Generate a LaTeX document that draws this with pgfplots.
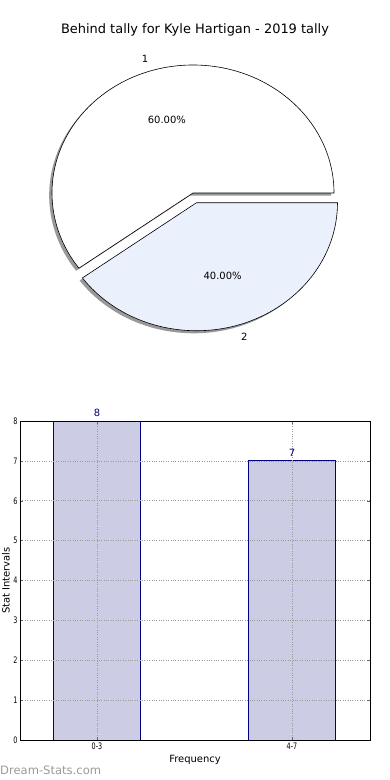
\documentclass[border=0pt]{standalone}
\usepackage{fontspec}
\setmainfont{DejaVu Sans}
\newfontfamily\tickfont[FakeStretch=0.72]{DejaVu Sans}
\usepackage{pgfplots}
\usepackage{pgfplotstable}
\pgfplotsset{compat=1.18}
\definecolor{navyc}{HTML}{000080}
\definecolor{barfill}{HTML}{CCCCE5}
\definecolor{slicetwo}{HTML}{EAF0FC}
\definecolor{wm}{HTML}{9A9A9A}

\pgfplotstableread{
label value
1 60
2 40
}\piedata

\pgfplotstableread{
x y
0 8
1 7
}\bardata

\begin{document}
\begin{tikzpicture}
\useasboundingbox (0bp,0bp) rectangle (390bp,780bp);
\pgfplotstablegetelem{0}{value}\of\piedata \let\va\pgfplotsretval
\pgfplotstablegetelem{1}{value}\of\piedata \let\vb\pgfplotsretval
\pgfmathsetmacro\fracA{\va/(\va+\vb)}
\pgfmathsetmacro\angA{\fracA*360}
\pgfmathsetmacro\midA{\angA/2}
\pgfmathsetmacro\midB{(\angA+360)/2}
\pgfmathsetmacro\ex{0.08*cos(\midB)}
\pgfmathsetmacro\ey{0.08*sin(\midB)}
\pgfmathsetmacro\lax{1.1*cos(\midA)}
\pgfmathsetmacro\lay{1.1*sin(\midA)}
\pgfmathsetmacro\pax{0.6*cos(\midA)}
\pgfmathsetmacro\pay{0.6*sin(\midA)}
\pgfmathsetmacro\lbx{\ex+1.1*cos(\midB)}
\pgfmathsetmacro\lby{\ey+1.1*sin(\midB)}
\pgfmathsetmacro\pbx{\ex+0.6*cos(\midB)}
\pgfmathsetmacro\pby{\ey+0.6*sin(\midB)}
\pgfmathsetmacro\pcA{\fracA*100}
\pgfmathsetmacro\pcB{100-\pcA}

% ---------- pie ----------
\begin{axis}[at={(193bp,587bp)}, anchor=center, hide axis,
  scale only axis, width=366.6bp, height=332.8bp,
  xmin=-1.3, xmax=1.3, ymin=-1.3, ymax=1.3, clip=false,
  /pgf/number format/assume math mode=true]
  % shadows
  \fill[black!40] (axis cs:-0.02,-0.02) -- ++(0:141bp and 128bp)
     arc[start angle=0, end angle=\angA, x radius=141bp, y radius=128bp] -- cycle;
  \fill[black!40] (axis cs:\ex-0.02,\ey-0.02) -- ++(\angA:141bp and 128bp)
     arc[start angle=\angA, end angle=360, x radius=141bp, y radius=128bp] -- cycle;
  % slices
  \filldraw[fill=white, draw=black, line width=0.6bp, line join=miter] (axis cs:0,0) -- ++(0:141bp and 128bp)
     arc[start angle=0, end angle=\angA, x radius=141bp, y radius=128bp] -- cycle;
  \filldraw[fill=slicetwo, draw=black, line width=0.6bp, line join=miter] (axis cs:\ex,\ey) -- ++(\angA:141bp and 128bp)
     arc[start angle=\angA, end angle=360, x radius=141bp, y radius=128bp] -- cycle;
  \node[font=\fontsize{10}{12}\selectfont] at (axis cs:\lax,\lay) {1};
  \node[font=\fontsize{10}{12}\selectfont] at (axis cs:\pax,\pay) {\pgfmathprintnumber[fixed,fixed zerofill,precision=2,assume math mode=true]{\pcA}\%};
  \node[font=\fontsize{10}{12}\selectfont] at (axis cs:\lbx,\lby) {2};
  \node[font=\fontsize{10}{12}\selectfont] at (axis cs:\pbx,\pby) {\pgfmathprintnumber[fixed,fixed zerofill,precision=2,assume math mode=true]{\pcB}\%};
\end{axis}
\node[font=\fontsize{13}{15}\selectfont] at (195bp,750bp) {Behind tally for Kyle Hartigan - 2019 tally};

% ---------- bars ----------
\begin{axis}[at={(20bp,40bp)}, anchor=south west, scale only axis,
  width=350bp, height=319bp,
  xmin=-0.395, xmax=1.4, ymin=0, ymax=8,
  ytick={0,1,...,8}, xtick={0,1}, xticklabels={0-3,4-7},
  ybar, bar width=0.446,
  axis on top,
  grid=major, grid style={dotted, black!40, line width=0.6bp},
  tick align=inside, major tick length=3bp,
  tick style={black!60, line width=0.5bp},
  axis line style={black, line width=0.8bp},
  tick label style={font=\tickfont\fontsize{9}{10}\selectfont},
  /pgf/number format/assume math mode=true,
  yticklabel style={xshift=1bp},
  xticklabel style={yshift=1bp},
  xlabel={Frequency}, ylabel={Stat Intervals},
  label style={font=\fontsize{10}{12}\selectfont},
  xlabel style={at={(axis description cs:0.5,-0.0627)}, anchor=center},
  ylabel style={at={(axis description cs:-0.04,0.5)}, anchor=center},
  nodes near coords,
  nodes near coords style={navyc, font=\fontsize{10}{12}\selectfont, anchor=center, yshift=8bp},
]
\addplot[fill=barfill, draw=navyc, line width=0.8bp] table[x=x,y=y] {\bardata};
\end{axis}
\node[anchor=west, text=wm, font=\fontsize{11.6}{13}\selectfont, inner sep=0] at (0bp,10bp) {Dream-Stats.com};
\end{tikzpicture}
\end{document}
